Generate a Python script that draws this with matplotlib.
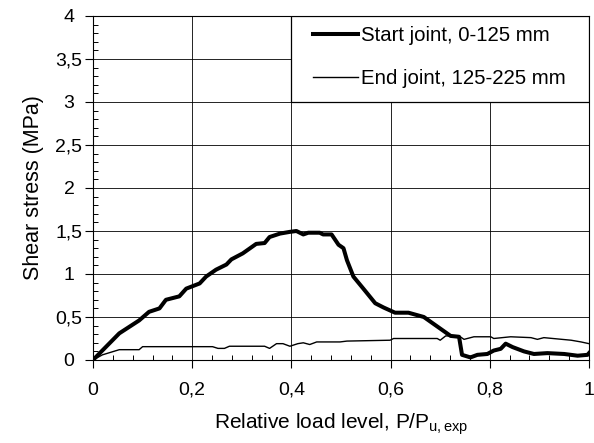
import matplotlib
matplotlib.use("Agg")
import matplotlib.pyplot as plt
from matplotlib.ticker import MultipleLocator, FuncFormatter
from matplotlib.patches import Rectangle

plt.rcParams['font.family'] = ['Liberation Sans', 'DejaVu Sans']
plt.rcParams['mathtext.fontset'] = 'custom'
plt.rcParams['mathtext.rm'] = 'Liberation Sans'
plt.rcParams['mathtext.it'] = 'Liberation Sans'

start_x = [0, 0.053, 0.093, 0.113, 0.134, 0.147, 0.174, 0.188, 0.215, 0.228, 0.248, 0.269,
           0.279, 0.302, 0.329, 0.346, 0.356, 0.377, 0.397, 0.410, 0.424, 0.434, 0.457, 0.464,
           0.481, 0.495, 0.505, 0.512, 0.525, 0.545, 0.569, 0.586, 0.609, 0.636, 0.667, 0.694,
           0.721, 0.738, 0.744, 0.761, 0.775, 0.795, 0.808, 0.822, 0.832, 0.846, 0.869, 0.889,
           0.916, 0.950, 0.977, 0.997, 1.0]
start_y = [0, 0.31, 0.46, 0.56, 0.60, 0.70, 0.74, 0.83, 0.89, 0.97, 1.05, 1.11,
           1.17, 1.24, 1.35, 1.36, 1.43, 1.47, 1.49, 1.50, 1.46, 1.48, 1.48, 1.46,
           1.46, 1.34, 1.30, 1.16, 0.97, 0.83, 0.66, 0.61, 0.55, 0.55, 0.50, 0.39,
           0.28, 0.27, 0.06, 0.03, 0.06, 0.07, 0.11, 0.13, 0.19, 0.15, 0.10, 0.07,
           0.08, 0.07, 0.05, 0.06, 0.08]

end_x = [0, 0.019, 0.053, 0.093, 0.10, 0.241, 0.252, 0.265, 0.275, 0.346, 0.356, 0.370,
         0.383, 0.397, 0.413, 0.424, 0.437, 0.451, 0.498, 0.512, 0.599, 0.606, 0.694, 0.700,
         0.711, 0.738, 0.748, 0.768, 0.802, 0.808, 0.842, 0.883, 0.896, 0.909, 0.964, 0.984, 1.0]
end_y = [0, 0.06, 0.12, 0.12, 0.155, 0.155, 0.135, 0.135, 0.16, 0.16, 0.135, 0.19,
         0.19, 0.16, 0.19, 0.20, 0.18, 0.21, 0.21, 0.22, 0.23, 0.25, 0.25, 0.23,
         0.28, 0.28, 0.24, 0.27, 0.27, 0.25, 0.27, 0.26, 0.24, 0.26, 0.23, 0.21, 0.19]

labels = ['Start joint, 0-125 mm', 'End joint, 125-225 mm']

fig = plt.figure(figsize=(5.94, 4.43), dpi=100)
ax = fig.add_axes([93 / 594, 1 - 360 / 443, 496 / 594, 344 / 443])

ax.plot(start_x, start_y, color='black', lw=2.9, label=labels[0], solid_joinstyle='round')
ax.plot(end_x, end_y, color='black', lw=1.0, label=labels[1])

ax.set_xlim(0, 1)
ax.set_ylim(0, 4)
ax.xaxis.set_major_locator(MultipleLocator(0.2))
ax.xaxis.set_minor_locator(MultipleLocator(0.04))
ax.yaxis.set_major_locator(MultipleLocator(0.5))
ax.yaxis.set_minor_locator(MultipleLocator(0.1))

def fmt(v, pos):
    s = ('%.1f' % v).rstrip('0').rstrip('.')
    return s.replace('.', ',')

ax.xaxis.set_major_formatter(FuncFormatter(fmt))
ax.yaxis.set_major_formatter(FuncFormatter(fmt))

ax.tick_params(which='major', direction='out', length=5.8, width=0.8, labelsize=14)
ax.tick_params(which='minor', direction='in', length=3.6, width=0.7)
ax.tick_params(axis='x', which='major', pad=10)
ax.tick_params(axis='y', which='major', pad=11.5)
plt.setp(ax.get_yticklabels(), ha='center')
ax.grid(True, which='major', color='black', lw=0.6)
for s in ax.spines.values():
    s.set_linewidth(0.8)

ax.set_xlabel(r'Relative load level, P/P$_{\mathrm{u,exp}}$', fontsize=15)
ax.set_ylabel('Shear stress (MPa)', fontsize=15.5)
ax.xaxis.set_label_coords(0.5, -0.151)
ax.yaxis.set_label_coords(-0.099, 0.5)

# legend background box spanning the upper-right grid cell block
ax.add_patch(Rectangle((0.4, 3.0), 0.6, 1.0, facecolor='white', edgecolor='black',
                       lw=0.9, zorder=3))

leg = ax.legend(loc='center left', bbox_to_anchor=(0.4435, 0.881), borderaxespad=0,
                borderpad=0, fontsize=14.7, frameon=False,
                handlelength=2.2, handletextpad=0.15, labelspacing=1.15)
leg.set_zorder(5)

fig.savefig('out.png', dpi=100)
